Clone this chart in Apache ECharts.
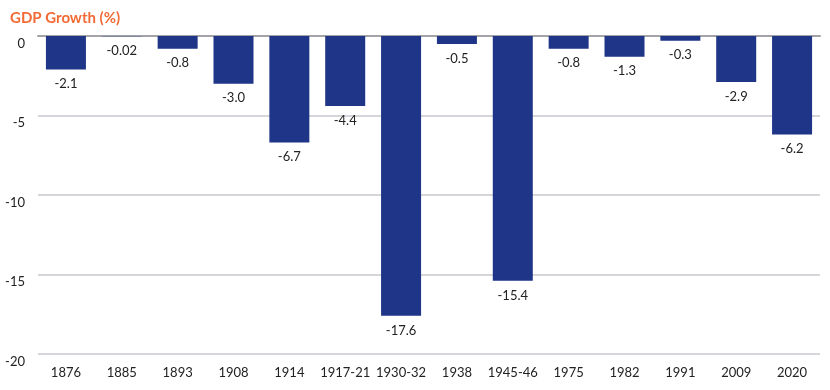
<!DOCTYPE html>
<html><head><meta charset="utf-8">
<script src="https://cdn.jsdelivr.net/npm/echarts@6/dist/echarts.min.js"></script>
<style>html,body{margin:0;padding:0;background:#fff}#c{width:830px;height:390px}</style>
</head><body><div id="c"></div>
<script>
const categories = ["1876","1885","1893","1908","1914","1917-21","1930-32","1938","1945-46","1975","1982","1991","2009","2020"];
const values = [-2.1,-0.02,-0.8,-3.0,-6.7,-4.4,-17.6,-0.5,-15.4,-0.8,-1.3,-0.3,-2.9,-6.2];
const valueLabels = ["-2.1","-0.02","-0.8","-3.0","-6.7","-4.4","-17.6","-0.5","-15.4","-0.8","-1.3","-0.3","-2.9","-6.2"];
const yTicks = [0,-5,-10,-15,-20];

const font = "Lato, 'Noto Sans', sans-serif";
const chart = echarts.init(document.getElementById('c'));
chart.setOption({
  animation:false,
  title:{text:"GDP Growth (%)",left:5,top:6,textStyle:{color:"#f26a35",fontSize:15,fontWeight:"bold",fontFamily:font}},
  grid:{left:38,right:10,top:36,bottom:36,containLabel:false},
  xAxis:{type:"category",data:categories,position:"top",
    axisLine:{show:true,lineStyle:{color:"#a3a3a8",width:2}},
    axisTick:{show:false},
    axisLabel:{show:false}},
  yAxis:{type:"value",min:-20,max:0,interval:5,
    axisLine:{show:false},axisTick:{show:false},
    splitLine:{lineStyle:{color:"#d5d5da",width:2}},
    axisLabel:{color:"#222",fontSize:13,fontFamily:font,margin:13,verticalAlign:"top",padding:[1,0,0,0],
      formatter:v=>String(v)}},
  series:[{type:"bar",data:values,barWidth:40,
    itemStyle:{color:"#1f3587"},
    label:{show:true,position:"bottom",distance:8,color:"#222",fontSize:13,fontFamily:font,
      formatter:p=>valueLabels[p.dataIndex]}}]
});
// x category labels at the bottom, placed via the axis scale
const xLabels = categories.map((c,i)=>{
  const pt = chart.convertToPixel({xAxisIndex:0,yAxisIndex:0},[i,yTicks[yTicks.length-1]]);
  return {type:"text",x:pt[0],y:pt[1]+19,style:{text:c,fill:"#222",font:"13px "+font,textAlign:"center",textVerticalAlign:"middle"}};
});
chart.setOption({graphic:xLabels});
</script></body></html>
